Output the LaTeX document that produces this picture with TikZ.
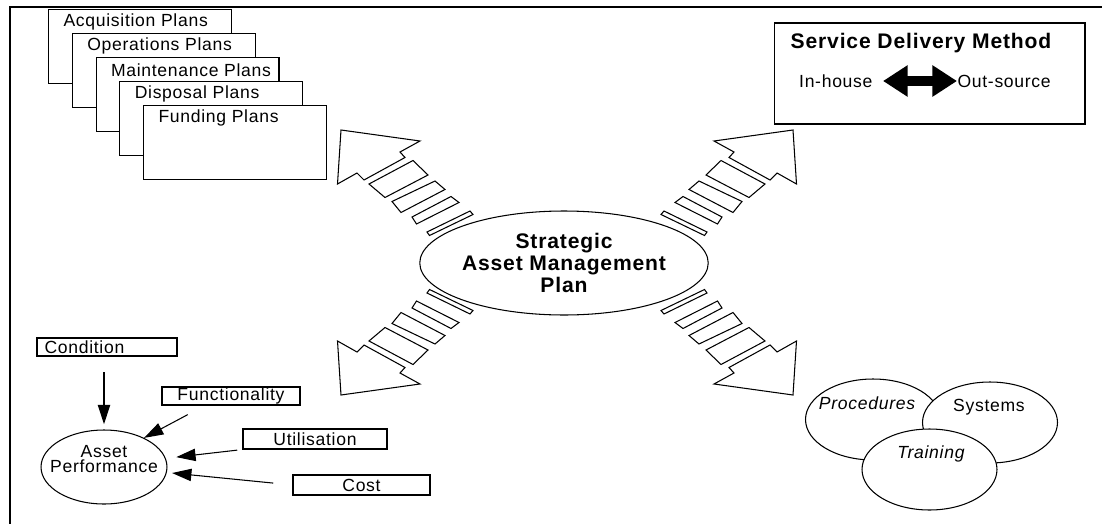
\documentclass[tikz,border=0pt]{standalone}
\usepackage{fontspec}
\setmainfont{Liberation Sans}[LetterSpace=4]
\usetikzlibrary{arrows.meta, shapes.geometric}

% one hollow striped arrow, pointing up-left from the plan ellipse
\newcommand{\stripearrow}{%
  \draw (-226,-132.5) -- (-147,-121.5) -- (-167,-110.5) -- (-162,-105)
    -- (-203,-82.5) -- (-210,-89.5) -- (-229.5,-78.5) -- cycle;
  \draw (-198,-78.5) -- (-154,-102) -- (-139,-87.5) -- (-182,-65) -- cycle;
  \draw (-175,-61) -- (-132,-81.5) -- (-122,-73) -- (-166,-50) -- cycle;
  \draw (-155,-45.5) -- (-116,-66) -- (-108,-60) -- (-150.5,-38.5) -- cycle;
  \draw (-140,-30.5) -- (-97,-51.5) -- (-94,-48) -- (-137.5,-27) -- cycle;
}

\begin{document}
\begin{tikzpicture}[x=0.02cm, y=-0.02cm, line width=0.6pt,
  plan/.style={draw, fill=white, anchor=north west, minimum width=3.66cm,
    minimum height=1.48cm, inner sep=0pt},
  lbl/.style={font=\fontsize{10}{11}\selectfont, inner sep=0pt},
  tag/.style={draw, fill=white, inner sep=0pt, font=\fontsize{10}{11}\selectfont},
  ring/.style={draw, fill=white, ellipse, minimum width=2.7cm,
    minimum height=1.62cm, inner sep=0pt},
  pointer/.style={-{Triangle[length=11pt, width=7pt]}}]
\useasboundingbox (0,0) rectangle (1102,524);
\draw[line width=1.2pt] (1102,7) -- (10,7) -- (10,524);

% plans
\foreach \t [count=\i from 0] in {Acquisition Plans, Operations Plans,
    Maintenance Plans, Disposal Plans, Funding Plans} {
  \node[plan] (plan\i) at (48+23.75*\i, 9+24*\i) {};
  \node[lbl, anchor=west] (plantxt\i) at (63+23.75*\i, 22+24*\i) {\t};
}

% service delivery
\node[draw, minimum width=6.22cm, minimum height=2.02cm] (sdm) at (929.5,73.5) {};
\node[font=\bfseries\fontsize{12}{14}\selectfont, inner sep=0pt] (sdmtitle)
  at (921,43) {Service Delivery Method};
\node[lbl, anchor=east] (inhouse) at (873,81) {In-house};
\node[lbl, anchor=west] (outsource) at (957,81) {Out-source};
\draw[line width=6pt, {Triangle[length=14pt,width=17pt]}-{Triangle[length=14pt,width=17pt]},
  shorten <=5.7pt] (inhouse.east) -- (outsource.west);

% centre
\node[draw, ellipse, minimum width=5.56cm, minimum height=2.08cm, inner sep=0pt,
  align=center, font=\bfseries\fontsize{12}{12.5}\selectfont] (samp)
  at (564,263) {Strategic\\Asset Management\\Plan};
\foreach \sx/\sy in {1/1, -1/1, 1/-1, -1/-1} {
  \begin{scope}[shift={(567,262.5)}, xscale=\sx, yscale=\sy]
    \stripearrow
  \end{scope}
}

% asset performance
\node[tag, minimum height=0.36cm, text width=2.5cm, inner xsep=0.15cm, align=left]
  (cond) at (107,347) {Condition};
\node[tag, minimum width=2.76cm, minimum height=0.36cm] (func) at (231,396) {Functionality};
\node[tag, minimum width=2.88cm, minimum height=0.4cm] (util) at (315,439) {Utilisation};
\node[tag, minimum width=2.74cm, minimum height=0.4cm] (cost) at (361.5,485) {Cost};
\node[draw, ellipse, minimum width=2.52cm, minimum height=1.48cm, inner sep=0pt]
  (perf) at (104,467) {};
\node[lbl, align=center, font=\fontsize{10}{8.5}\selectfont] (perftxt)
  at (104,459.5) {Asset\\Performance};
\draw[pointer, shorten <=9pt, shorten >=3pt] (perf.north |- cond.south) -- (perf.north);
\draw[pointer, shorten <=11pt] (func.-160) -- (perf.36);
\draw[pointer, shorten <=3pt, shorten >=6pt] (util.south west) -- (perf.8);
\draw[pointer, shorten <=11pt, shorten >=3pt] (cost.west) -- (perf.-5);

% procedures, systems, training
\node[ring] (proc) at (873,419.5) {};
\node[ring] (sys) at (990,422.5) {};
\node[ring] (train) at (929.5,469.5) {};
\node[lbl, font=\itshape\fontsize{10}{11}\selectfont] (proctxt) at (867,403) {Procedures};
\node[lbl] (systxt) at (989,407) {Systems};
\node[lbl, font=\itshape\fontsize{10}{11}\selectfont] (traintxt) at (931,454) {Training};
\end{tikzpicture}
\end{document}
